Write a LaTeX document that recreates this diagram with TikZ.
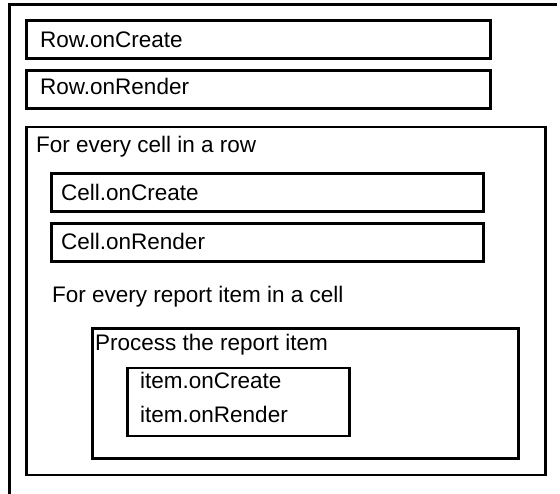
\documentclass[tikz,border=0pt]{standalone}
\usepackage{fontspec}
\setmainfont{Liberation Sans}
\begin{document}
\begin{tikzpicture}[x=1pt,y=-1pt,
 box/.style={draw, line width=2.8pt, rectangle, anchor=north west, inner sep=0pt, outer sep=0pt},
 lbl/.style={anchor=base west, inner sep=0pt, font=\fontsize{22.5}{27}\selectfont}]
\useasboundingbox (0,0) rectangle (560,494);
\draw[line width=3pt] (557,4.5) -- (9,4.5) -- (9,494);
% boxes
\node[box, minimum width=464pt, minimum height=38pt] (rowc) at (26.5,20.5) {};
\node[box, minimum width=464pt, minimum height=38pt] (rowr) at (26.5,70.5) {};
\node[box, minimum width=519pt, minimum height=348pt] (cellloop) at (26.5,127) {};
\node[box, minimum width=432pt, minimum height=38pt] (cellc) at (51.5,173.5) {};
\node[box, minimum width=432pt, minimum height=38pt] (cellr) at (51.5,223.5) {};
\node[box, minimum width=426pt, minimum height=130pt] (proc) at (92.5,328.5) {};
\node[box, minimum width=222pt, minimum height=68pt] (item) at (127.5,368) {};
% labels
\node[lbl] (trowc) at (40,47.5) {Row.onCreate};
\node[lbl] (trowr) at (40,94.5) {Row.onRender};
\node[lbl] (tcellloop) at (36,152.5) {For every cell in a row};
\node[lbl] (tcellc) at (61,201) {Cell.onCreate};
\node[lbl] (tcellr) at (61,250) {Cell.onRender};
\node[lbl] (titemloop) at (52,303) {For every report item in a cell};
\node[lbl] (tproc) at (95,351) {Process the report item};
\node[lbl] (titemc) at (140,389) {item.onCreate};
\node[lbl] (titemr) at (140,423) {item.onRender};
\end{tikzpicture}
\end{document}
